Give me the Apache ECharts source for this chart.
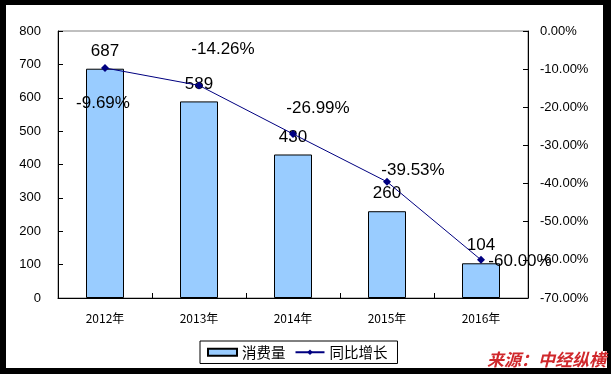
<!DOCTYPE html>
<html><head><meta charset="utf-8">
<script src="https://cdn.jsdelivr.net/npm/echarts@6/dist/echarts.min.js"></script>
<style>html,body{margin:0;padding:0;background:#fff;}#c{width:611px;height:374px;}</style>
</head><body><div id="c"></div>
<script>
var categories = ['2012年','2013年','2014年','2015年','2016年'];
var consumption = [687, 589, 430, 260, 104];
var growth = [-9.69, -14.26, -26.99, -39.53, -60.00];
var growthLabelOffsets = [[-2,35],[24,-36],[25,-26],[26,-11],[39,1]];

var chart = echarts.init(document.getElementById('c'));
var gridL = 58, gridT = 31, gridR = 83, gridB = 76;
chart.setOption({
  animation: false,
  backgroundColor: '#fff',
  grid: {left: gridL, top: gridT, right: gridR, bottom: gridB, show: true, borderColor: '#808080', borderWidth: 1, containLabel: false},
  legend: {
    left: 200, top: 341,
    padding: [4, 10, 4, 7], itemGap: 9, itemWidth: 29, itemHeight: 7,
    borderColor: '#000', borderWidth: 1, borderRadius: 0,
    textStyle: {fontFamily: 'Noto Sans CJK SC', fontSize: 14.5, color: '#000'},
    data: [{name: '消费量', icon: 'rect'}, {name: '同比增长'}]
  },
  xAxis: {
    type: 'category', data: categories, boundaryGap: true,
    axisLine: {lineStyle: {color: '#000', width: 1}},
    axisTick: {show: true, inside: true, length: 5, alignWithLabel: false, lineStyle: {color: '#000'}},
    axisLabel: {fontFamily: 'Noto Sans CJK SC', fontSize: 12, color: '#000', margin: 14}
  },
  yAxis: [
    {type: 'value', min: 0, max: 800, interval: 100, position: 'left',
     axisLine: {show: true, lineStyle: {color: '#000'}},
     axisTick: {show: true, inside: true, length: 5, lineStyle: {color: '#000'}},
     splitLine: {show: false},
     axisLabel: {fontFamily: 'Arial, Liberation Sans', fontSize: 13, color: '#000', margin: 17}},
    {type: 'value', min: -70, max: 0, interval: 10, position: 'right',
     axisLine: {show: true, lineStyle: {color: '#000'}},
     axisTick: {show: true, inside: true, length: 5, lineStyle: {color: '#000'}},
     splitLine: {show: false},
     axisLabel: {fontFamily: 'Arial, Liberation Sans', fontSize: 13, color: '#000', margin: 12,
       formatter: function(v){ return v.toFixed(2) + '%'; }}}
  ],
  series: [
    {name: '消费量', type: 'bar', yAxisIndex: 0, barWidth: 38, data: consumption,
     itemStyle: {color: '#99CCFF', borderColor: '#000', borderWidth: 1},
     label: {show: true, position: 'top', distance: 9, fontFamily: 'Arial, Liberation Sans', fontSize: 17, color: '#000'}},
    {name: '同比增长', type: 'line', yAxisIndex: 1, z: 5,
     data: growth.map(function(v, i){
       return {value: v, label: {offset: growthLabelOffsets[i]}};
     }),
     symbol: 'diamond', symbolSize: 8,
     lineStyle: {color: '#000080', width: 1},
     itemStyle: {color: '#000080'},
     label: {show: true, position: 'inside', fontFamily: 'Arial, Liberation Sans', fontSize: 17, color: '#000',
       formatter: function(p){ return p.value.toFixed(2) + '%'; }}}
  ],
  graphic: [
    {type: 'rect', shape: {x: 0, y: 0, width: 611, height: 5}, style: {fill: '#000'}, z: 100},
    {type: 'rect', shape: {x: 0, y: 368, width: 611, height: 6}, style: {fill: '#000'}, z: 100},
    {type: 'rect', shape: {x: 0, y: 0, width: 6, height: 374}, style: {fill: '#000'}, z: 100},
    {type: 'rect', shape: {x: 603, y: 0, width: 8, height: 374}, style: {fill: '#000'}, z: 100},
    {type: 'text', left: 486, top: 351, z: 101,
     style: {text: '来源：中经纵横', fill: '#D0282C', font: 'italic bold 17px "Noto Sans CJK SC"', backgroundColor: '#fff', padding: [0, 1, 0, 1]}}
  ]
});
</script></body></html>
